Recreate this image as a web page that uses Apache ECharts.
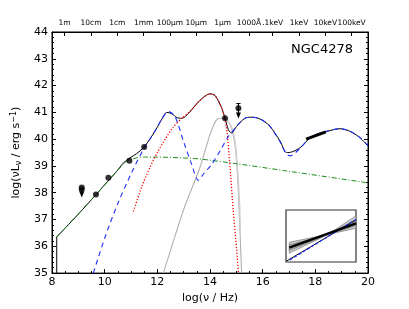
<!DOCTYPE html>
<html><head><meta charset="utf-8">
<script src="https://cdn.jsdelivr.net/npm/echarts@6/dist/echarts.min.js"></script>
<style>html,body{margin:0;padding:0;background:#fff}#c{width:409px;height:309px}</style>
</head><body><div id="c"></div>
<script>
// ---- data (log nu [Hz], log nuLnu [erg/s]) ----
const totalEdgeX = [8.18,8.18];
const totalEdgeY = [35.0,36.35];
const totalX = [8.18,9.0,9.67,10.0,10.46,10.7,10.96,11.2,11.47,11.75,12.0,12.2,12.36,12.55,12.75,12.93,13.2,13.62,14.0,14.19,14.45,14.57,14.70,14.82,15.01,15.33,15.6,15.83,16.08,16.28,16.66,16.91,17.1,17.42,17.8,18.1,18.43,18.94,19.2,19.44,19.7,20.0];
const totalY = [36.35,37.2,37.93,38.3,38.8,39.1,39.3,39.45,39.68,40.05,40.45,40.8,41.0,40.95,40.8,40.78,40.98,41.45,41.69,41.63,41.15,40.78,40.35,40.23,40.48,40.78,40.82,40.78,40.65,40.48,39.93,39.5,39.52,39.68,40.05,40.2,40.29,40.39,40.34,40.23,40.05,39.75];

const agnX = [9.57,10.0,10.5,11.0,11.47,11.75,12.0,12.2,12.42,12.67,12.99,13.3,13.56,13.75,14.07,14.38,14.7,14.82,15.01,15.33,15.6,15.83,16.08,16.28,16.66,16.9,17.05,17.25,17.42,17.8,18.1,18.43,18.94,19.2,19.44,19.7,20.0];
const agnY = [35.0,36.3,37.6,38.7,39.62,40.05,40.45,40.8,41.03,40.84,39.93,39.07,38.46,38.7,39.07,39.56,40.11,40.25,40.48,40.78,40.82,40.78,40.65,40.48,39.9,39.45,39.38,39.5,39.66,40.05,40.2,40.29,40.39,40.34,40.23,40.05,39.75];

const dustX = [11.09,11.4,11.72,12.0,12.3,12.6,12.93,13.2,13.62,14.0,14.19,14.45,14.63,14.76,14.88,15.01,15.08];
const dustY = [37.3,38.2,38.95,39.5,40.0,40.45,40.78,41.0,41.45,41.69,41.63,41.15,40.41,38.95,37.37,35.9,35.0];

const starX = [12.23,13.0,13.62,14.0,14.25,14.45,14.70,14.88,14.99,15.08,15.2];
const starY = [35.0,37.37,38.95,40.17,40.72,40.78,40.66,40.17,39.44,37.97,35.0];
const star2X = [14.6,14.8,14.95,15.05,15.12,15.15];
const star2Y = [40.75,40.5,39.9,38.8,37.6,36.5];

const jetX = [8.18,9.67,10.46,10.8,11.2,11.47,12.0,13.0,13.62,14.89,16.79,20.0];
const jetY = [36.35,37.93,38.8,39.15,39.3,39.33,39.33,39.3,39.26,39.1,38.83,38.37];

const ptX = [9.13,9.13,9.67,10.14,10.94,11.5,14.57,15.08];
const ptY = [38.2,38.12,37.93,38.56,39.19,39.71,40.78,41.15];
const limX = [9.13,15.08];
const limTop = [38.16,41.33];
const limBottom = [37.85,40.8];

const xrayX = [17.65,18.4];
const xrayY = [40.0,40.27];

const topPos = [8.48,9.48,10.48,11.48,12.48,13.48,14.48,15.48,16.38,17.38,18.38,19.38];
const topLabels = ['1m','10cm','1cm','1mm','100μm','10μm','1μm','1000Å','.1keV','1keV','10keV','100keV'];

// inset (normalised units)
const insThickX = [0.047,1.0], insThickY = [0.275,0.744];
const insThinX = [0.01,1.0], insThinY = [0.02,0.81];
const insBlueX = [0.057,1.0], insBlueY = [0.04,0.82];
const insBandX = [0.047,0.60,1.0];
const insBandLo = [0.17,0.53,0.65];
const insBandHi = [0.38,0.53,0.89];
const insInnerLo = [0.22,0.53,0.70];
const insInnerHi = [0.33,0.53,0.82];

const zip = (a,b) => a.map((v,i)=>[v,b[i]]);
const F = 'DejaVu Sans';

const chart = echarts.init(document.getElementById('c'), null, {renderer:'canvas'});
const lineS = (xs, ys, color, type, width, z, smooth) => ({
  type:'line', xAxisIndex:0, yAxisIndex:0, data: zip(xs,ys), showSymbol:false, symbol:'none', smooth: smooth||0,
  lineStyle:{color, type, width}, z, animation:false, silent:true, clip:true
});

const limitSeries = [];
limX.forEach((x,i)=>{
  limitSeries.push({
    type:'line', xAxisIndex:0, yAxisIndex:0, animation:false, silent:true, z:10,
    data:[{value:[x,limTop[i]], symbol:'none'},{value:[x,limBottom[i]+0.08], symbol:'triangle', symbolSize:[5,6], symbolRotate:180}],
    showSymbol:true, lineStyle:{color:'#000', width:1.2}, itemStyle:{color:'#000'}
  });
});
limitSeries.push({type:'line', xAxisIndex:0, yAxisIndex:0, animation:false, silent:true, z:10, symbol:'none',
  data:[[15.0,41.33],[15.16,41.33]], lineStyle:{color:'#000', width:1}});

const bandSeries = (lo, hi, fill, z) => ({
  type:'custom', coordinateSystem:'cartesian2d', xAxisIndex:2, yAxisIndex:2, animation:false, silent:true, z,
  data:[[0.5,0.5]],
  renderItem:(params, api) => {
    const pts = [];
    insBandX.forEach((x,i)=>pts.push(api.coord([x, hi[i]])));
    for (let i=insBandX.length-1;i>=0;i--) pts.push(api.coord([insBandX[i], lo[i]]));
    return {type:'polygon', shape:{points:pts}, style:{fill, stroke:'#777', lineWidth:0.7}};
  }
});

chart.setOption({
  animation:false,
  backgroundColor:'#fff',
  title:{text:'NGC4278', right:51, top:38, textStyle:{fontFamily:F, fontSize:13, fontWeight:'normal', color:'#000'}},
  grid:[
    {left:52, right:41, top:32, bottom:31, show:true, borderColor:'#000', borderWidth:1, backgroundColor:'transparent'},
    {left:286, top:210, width:70, height:52, show:true, borderColor:'#333', borderWidth:1.2, backgroundColor:'#fff', z:20}
  ],
  xAxis:[
    {type:'value', gridIndex:0, min:8, max:20, interval:2, position:'bottom',
     name:'log(ν / Hz)', nameLocation:'middle', nameGap:13,
     nameTextStyle:{fontFamily:F, fontSize:11, color:'#000'},
     axisLine:{show:true, lineStyle:{color:'#000'}}, splitLine:{show:false},
     axisTick:{show:true, inside:true, length:4, lineStyle:{color:'#000'}},
     minorTick:{show:true, splitNumber:4, length:2, lineStyle:{color:'#000'}},
     axisLabel:{fontFamily:F, fontSize:11, color:'#000', margin:4}},
    {type:'value', gridIndex:0, min:8, max:20, position:'top',
     axisLine:{show:true, lineStyle:{color:'#000'}}, splitLine:{show:false},
     axisTick:{show:true, inside:true, length:4, customValues: topPos, lineStyle:{color:'#000'}},
     axisLabel:{show:true, customValues: topPos, fontFamily:F, fontSize:7.5, color:'#000', margin:5,
       formatter:(v)=>{let k=0,b=1e9; topPos.forEach((p,i)=>{if(Math.abs(p-v)<b){b=Math.abs(p-v);k=i;}}); return topLabels[k];}}},
    {type:'value', gridIndex:1, min:0, max:1, show:true, axisLine:{show:false}, axisTick:{show:false}, axisLabel:{show:false}, splitLine:{show:false}}
  ],
  yAxis:[
    {type:'value', gridIndex:0, min:35, max:44, interval:1, position:'left',
     name:'log(νL{s|ν} / erg s{p|−1})', nameLocation:'middle', nameGap:27, nameRotate:90,
     nameTextStyle:{fontFamily:F, fontSize:11, color:'#000',
        rich:{s:{fontFamily:F, fontSize:8, color:'#000', padding:[5,0,0,0]}, p:{fontFamily:F, fontSize:8, color:'#000', padding:[0,0,6,0]}}},
     axisLine:{show:true, lineStyle:{color:'#000'}}, splitLine:{show:false},
     axisTick:{show:true, inside:true, length:4, lineStyle:{color:'#000'}},
     minorTick:{show:true, splitNumber:5, length:2, lineStyle:{color:'#000'}},
     axisLabel:{fontFamily:F, fontSize:11, color:'#000', margin:4}},
    {type:'value', gridIndex:0, min:35, max:44, interval:1, position:'right',
     axisLine:{show:true, lineStyle:{color:'#000'}}, splitLine:{show:false},
     axisTick:{show:true, inside:true, length:4, lineStyle:{color:'#000'}},
     minorTick:{show:true, splitNumber:5, length:2, lineStyle:{color:'#000'}},
     axisLabel:{show:false}},
    {type:'value', gridIndex:1, min:0, max:1, show:true, axisLine:{show:false}, axisTick:{show:false}, axisLabel:{show:false}, splitLine:{show:false}}
  ],
  series:[
    lineS(starX, starY, '#b0b0b0', 'solid', 1.1, 2, 0.25),
    lineS(star2X, star2Y, '#cfcfcf', 'solid', 1.5, 2, 0.25),
    lineS(totalEdgeX, totalEdgeY, '#000', 'solid', 1, 3, 0),
    lineS(totalX, totalY, '#000', 'solid', 1, 3, 0.3),
    lineS(jetX, jetY, '#1a8a1a', [5,2,1,2], 1, 4, 0.2),
    lineS(dustX, dustY, '#ff0000', [1.2,1.8], 1.3, 5, 0.25),
    lineS(agnX, agnY, '#1f2fff', [5,4], 1.1, 6, 0.3),
    {type:'line', xAxisIndex:0, yAxisIndex:0, data: zip(xrayX, xrayY), symbol:'none', lineStyle:{color:'#000', width:3}, z:9, animation:false, silent:true},
    {type:'scatter', xAxisIndex:0, yAxisIndex:0, data: zip(ptX, ptY), symbol:'circle', symbolSize:6, itemStyle:{color:'#000'}, z:11, animation:false, silent:true},
    ...limitSeries,
    bandSeries(insBandLo, insBandHi, '#d2d2d2', 21),
    bandSeries(insInnerLo, insInnerHi, '#a8a8a8', 21.5),
    {type:'line', xAxisIndex:2, yAxisIndex:2, data: zip(insThinX, insThinY), symbol:'none', lineStyle:{color:'#000', width:1}, z:22, animation:false, silent:true},
    {type:'line', xAxisIndex:2, yAxisIndex:2, data: zip(insBlueX, insBlueY), symbol:'none', lineStyle:{color:'#1f2fff', width:1.2, type:[3,2]}, z:23, animation:false, silent:true},
    {type:'line', xAxisIndex:2, yAxisIndex:2, data: zip(insThickX, insThickY), symbol:'none', lineStyle:{color:'#000', width:2.5}, z:24, animation:false, silent:true}
  ]
});
</script></body></html>
